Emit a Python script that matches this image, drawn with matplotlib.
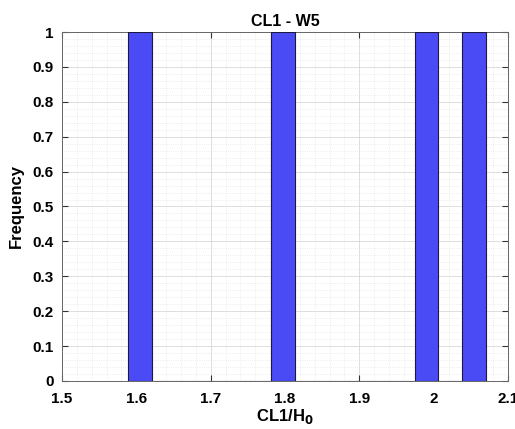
import matplotlib.pyplot as plt
from matplotlib.ticker import MultipleLocator

# histogram bins (left edge of first bin, bin width) and counts
bin_start = 1.5892
bin_width = 0.0321
counts = [1, 0, 0, 0, 0, 0, 1, 0, 0, 0, 0, 0, 1, 0, 1]

x_ticks = [1.5, 1.6, 1.7, 1.8, 1.9, 2.0, 2.1]
x_tick_labels = ['1.5', '1.6', '1.7', '1.8', '1.9', '2', '2.1']
y_ticks = [0, 0.1, 0.2, 0.3, 0.4, 0.5, 0.6, 0.7, 0.8, 0.9, 1.0]
y_tick_labels = ['0', '0.1', '0.2', '0.3', '0.4', '0.5', '0.6', '0.7', '0.8', '0.9', '1']

title = "CL1 - W5"
xlabel = "CL1/H$_0$"
ylabel = "Frequency"

plt.rcParams['font.family'] = ['Liberation Sans', 'DejaVu Sans']
plt.rcParams['font.weight'] = 'bold'

fig = plt.figure(figsize=(5.15, 4.29), dpi=100)
ax = fig.add_axes([0.1204, 0.1119, 0.866, 0.8135])

lefts = [bin_start + i * bin_width for i in range(len(counts))]
ax.bar(lefts, counts, width=bin_width, align='edge',
       color='#4b4bf5', edgecolor='#1a1a40', linewidth=0.8, zorder=3)

ax.set_xlim(1.5, 2.1)
ax.set_ylim(0, 1)
ax.set_xticks(x_ticks)
ax.set_xticklabels(x_tick_labels)
ax.set_yticks(y_ticks)
ax.set_yticklabels(y_tick_labels)
ax.xaxis.set_minor_locator(MultipleLocator(0.02))
ax.yaxis.set_minor_locator(MultipleLocator(0.02))

ax.grid(which='major', color='#d9d9d9', linewidth=0.6, zorder=0)
ax.grid(which='minor', color='#e2e2e2', linewidth=0.5, linestyle=':', zorder=0)

ax.tick_params(which='both', direction='in', top=True, right=True,
               labelsize=11, colors='#333333', labelcolor='black')
ax.tick_params(which='major', length=4)
ax.tick_params(axis='x', which='major', pad=8)
ax.tick_params(axis='y', which='major', pad=6)
ax.tick_params(which='minor', length=0)
for s in ax.spines.values():
    s.set_color('#666666')
    s.set_linewidth(0.7)

ax.set_title(title, fontsize=11.5, fontweight='bold', pad=4)
ax.set_xlabel(xlabel, fontsize=12, fontweight='bold', labelpad=1)
ax.set_ylabel(ylabel, fontsize=12, fontweight='bold', labelpad=6)

fig.savefig('out.png', dpi=100)
